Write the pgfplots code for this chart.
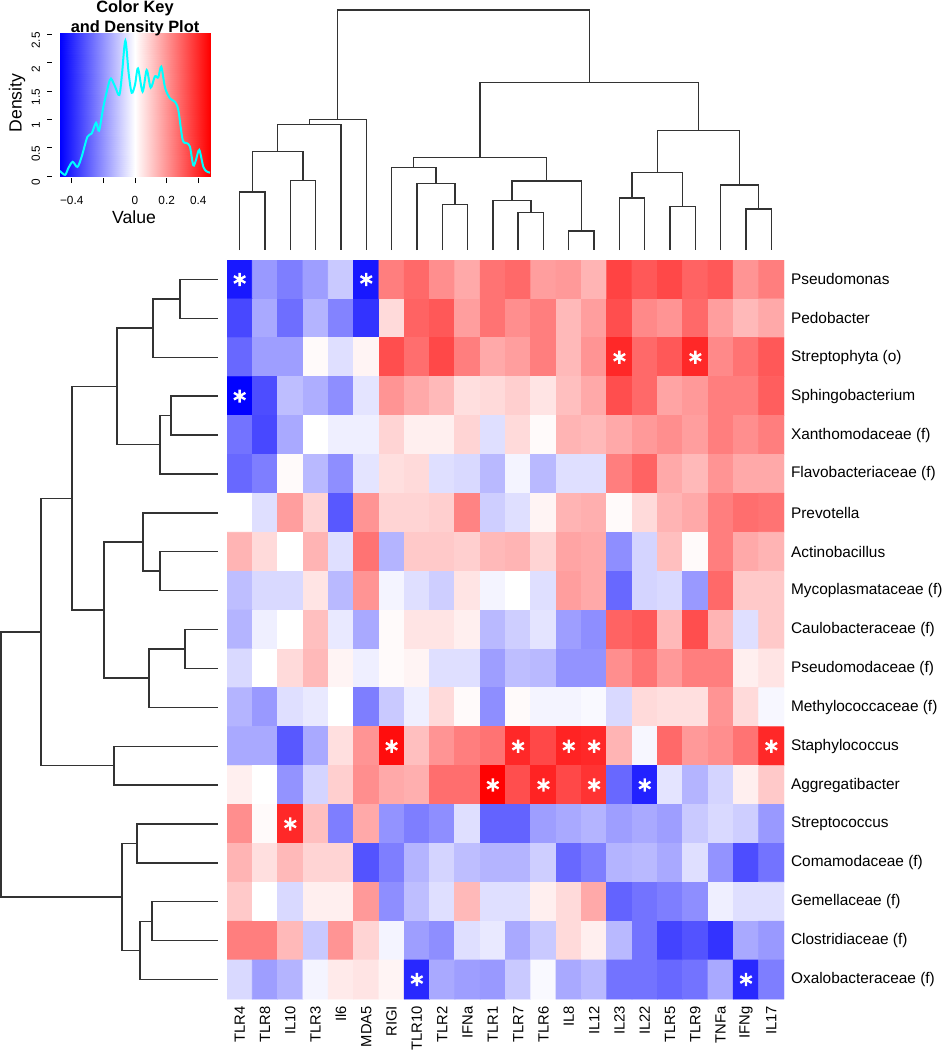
\documentclass[border=0pt]{standalone}
\usepackage{fontspec}
\setmainfont{Liberation Sans}
\usepackage{pgfplots}
\pgfplotsset{compat=1.18}
\usetikzlibrary{plotmarks}
\pgfplotsset{colormap={bwr}{rgb255=(0,0,255) rgb255=(255,255,255) rgb255=(255,0,0)}}
\definecolor{dendro}{HTML}{333333}
\definecolor{dens}{RGB}{0,255,255}

\begin{document}
\begin{tikzpicture}
\useasboundingbox (0,0) rectangle (473pt,-525pt);

% ---- heatmap ----
\begin{axis}[
  at={(113.5pt,-130pt)}, anchor=north west,
  scale only axis, width=278.5pt, height=369.5pt,
  xmin=-0.5, xmax=21.5, ymin=-0.5, ymax=18.5, y dir=reverse,
  axis line style={draw=none}, major tick length=0pt,
  colormap name=bwr, point meta min=-0.474, point meta max=0.474,
  xtick={0,...,21},
  xticklabels={TLR4,TLR8,IL10,TLR3,Il6,MDA5,RIGI,TLR10,TLR2,IFNa,TLR1,TLR7,TLR6,IL8,IL12,IL23,IL22,TLR5,TLR9,TNFa,IFNg,IL17},
  ytick={0,...,18},
  yticklabels={Pseudomonas,Pedobacter,Streptophyta (o),Sphingobacterium,Xanthomodaceae (f),Flavobacteriaceae (f),Prevotella,Actinobacillus,Mycoplasmataceae (f),Caulobacteraceae (f),Pseudomodaceae (f),Methylococcaceae (f),Staphylococcus,Aggregatibacter,Streptococcus,Comamodaceae (f),Gemellaceae (f),Clostridiaceae (f),Oxalobacteraceae (f)},
  yticklabel pos=right,
  xticklabel style={rotate=90, anchor=east, font=\fontsize{7.4}{8}\selectfont},
  yticklabel style={anchor=west, font=\fontsize{7.7}{9}\selectfont},
]
\addplot[matrix plot*, mesh/cols=22, point meta=explicit] coordinates {
(0,0)[-0.43] (1,0)[-0.19] (2,0)[-0.24] (3,0)[-0.18] (4,0)[-0.10] (5,0)[-0.43] (6,0)[0.24] (7,0)[0.28] (8,0)[0.21] (9,0)[0.16] (10,0)[0.26] (11,0)[0.28] (12,0)[0.18] (13,0)[0.19] (14,0)[0.14] (15,0)[0.35] (16,0)[0.31] (17,0)[0.34] (18,0)[0.29] (19,0)[0.31] (20,0)[0.20] (21,0)[0.24]
(0,1)[-0.34] (1,1)[-0.16] (2,1)[-0.27] (3,1)[-0.14] (4,1)[-0.23] (5,1)[-0.38] (6,1)[0.07] (7,1)[0.29] (8,1)[0.31] (9,1)[0.18] (10,1)[0.26] (11,1)[0.21] (12,1)[0.24] (13,1)[0.13] (14,1)[0.18] (15,1)[0.33] (16,1)[0.22] (17,1)[0.20] (18,1)[0.28] (19,1)[0.18] (20,1)[0.13] (21,1)[0.16]
(0,2)[-0.28] (1,2)[-0.18] (2,2)[-0.18] (3,2)[0.01] (4,2)[-0.06] (5,2)[0.02] (6,2)[0.33] (7,2)[0.27] (8,2)[0.34] (9,2)[0.24] (10,2)[0.16] (11,2)[0.18] (12,2)[0.24] (13,2)[0.13] (14,2)[0.20] (15,2)[0.40] (16,2)[0.28] (17,2)[0.31] (18,2)[0.40] (19,2)[0.22] (20,2)[0.26] (21,2)[0.31]
(0,3)[-0.47] (1,3)[-0.33] (2,3)[-0.12] (3,3)[-0.15] (4,3)[-0.21] (5,3)[-0.05] (6,3)[0.20] (7,3)[0.16] (8,3)[0.13] (9,3)[0.06] (10,3)[0.07] (11,3)[0.09] (12,3)[0.05] (13,3)[0.12] (14,3)[0.16] (15,3)[0.33] (16,3)[0.28] (17,3)[0.17] (18,3)[0.19] (19,3)[0.24] (20,3)[0.24] (21,3)[0.30]
(0,4)[-0.26] (1,4)[-0.34] (2,4)[-0.16] (3,4)[0.00] (4,4)[-0.03] (5,4)[-0.03] (6,4)[0.08] (7,4)[0.03] (8,4)[0.03] (9,4)[0.08] (10,4)[-0.06] (11,4)[0.07] (12,4)[0.01] (13,4)[0.14] (14,4)[0.13] (15,4)[0.16] (16,4)[0.19] (17,4)[0.21] (18,4)[0.18] (19,4)[0.24] (20,4)[0.21] (21,4)[0.24]
(0,5)[-0.28] (1,5)[-0.24] (2,5)[0.01] (3,5)[-0.13] (4,5)[-0.21] (5,5)[-0.05] (6,5)[0.06] (7,5)[0.07] (8,5)[-0.06] (9,5)[-0.07] (10,5)[-0.13] (11,5)[-0.02] (12,5)[-0.13] (13,5)[-0.06] (14,5)[-0.06] (15,5)[0.24] (16,5)[0.29] (17,5)[0.16] (18,5)[0.13] (19,5)[0.20] (20,5)[0.16] (21,5)[0.16]
(0,6)[0.00] (1,6)[-0.06] (2,6)[0.18] (3,6)[0.08] (4,6)[-0.31] (5,6)[0.20] (6,6)[0.08] (7,6)[0.08] (8,6)[0.09] (9,6)[0.23] (10,6)[-0.09] (11,6)[-0.06] (12,6)[0.02] (13,6)[0.14] (14,6)[0.15] (15,6)[0.01] (16,6)[0.07] (17,6)[0.14] (18,6)[0.16] (19,6)[0.24] (20,6)[0.27] (21,6)[0.26]
(0,7)[0.14] (1,7)[0.07] (2,7)[0.00] (3,7)[0.14] (4,7)[-0.06] (5,7)[0.26] (6,7)[-0.14] (7,7)[0.10] (8,7)[0.10] (9,7)[0.09] (10,7)[0.13] (11,7)[0.14] (12,7)[0.08] (13,7)[0.17] (14,7)[0.16] (15,7)[-0.21] (16,7)[-0.08] (17,7)[0.12] (18,7)[0.01] (19,7)[0.24] (20,7)[0.16] (21,7)[0.14]
(0,8)[-0.12] (1,8)[-0.07] (2,8)[-0.07] (3,8)[0.05] (4,8)[-0.13] (5,8)[0.20] (6,8)[-0.02] (7,8)[-0.06] (8,8)[-0.09] (9,8)[0.05] (10,8)[-0.02] (11,8)[0.00] (12,8)[-0.06] (13,8)[0.18] (14,8)[0.16] (15,8)[-0.28] (16,8)[-0.08] (17,8)[-0.07] (18,8)[-0.19] (19,8)[0.28] (20,8)[0.10] (21,8)[0.10]
(0,9)[-0.14] (1,9)[-0.03] (2,9)[0.00] (3,9)[0.12] (4,9)[-0.04] (5,9)[-0.16] (6,9)[0.01] (7,9)[0.05] (8,9)[0.05] (9,9)[0.03] (10,9)[-0.13] (11,9)[-0.09] (12,9)[-0.05] (13,9)[-0.18] (14,9)[-0.21] (15,9)[0.29] (16,9)[0.31] (17,9)[0.13] (18,9)[0.33] (19,9)[0.14] (20,9)[-0.06] (21,9)[0.10]
(0,10)[-0.07] (1,10)[0.00] (2,10)[0.07] (3,10)[0.13] (4,10)[0.02] (5,10)[-0.03] (6,10)[0.01] (7,10)[0.02] (8,10)[-0.06] (9,10)[-0.06] (10,10)[-0.18] (11,10)[-0.12] (12,10)[-0.13] (13,10)[-0.20] (14,10)[-0.20] (15,10)[0.21] (16,10)[0.26] (17,10)[0.19] (18,10)[0.24] (19,10)[0.24] (20,10)[0.03] (21,10)[0.05]
(0,11)[-0.14] (1,11)[-0.19] (2,11)[-0.06] (3,11)[-0.04] (4,11)[0.00] (5,11)[-0.24] (6,11)[-0.10] (7,11)[-0.03] (8,11)[0.07] (9,11)[0.01] (10,11)[-0.21] (11,11)[0.01] (12,11)[-0.02] (13,11)[-0.02] (14,11)[-0.01] (15,11)[-0.07] (16,11)[0.07] (17,11)[0.06] (18,11)[0.06] (19,11)[0.20] (20,11)[0.07] (21,11)[-0.015]
(0,12)[-0.16] (1,12)[-0.16] (2,12)[-0.31] (3,12)[-0.16] (4,12)[0.06] (5,12)[0.20] (6,12)[0.45] (7,12)[0.12] (8,12)[0.20] (9,12)[0.24] (10,12)[0.26] (11,12)[0.40] (12,12)[0.34] (13,12)[0.41] (14,12)[0.40] (15,12)[0.14] (16,12)[-0.015] (17,12)[0.28] (18,12)[0.19] (19,12)[0.21] (20,12)[0.26] (21,12)[0.40]
(0,13)[0.03] (1,13)[0.00] (2,13)[-0.20] (3,13)[-0.08] (4,13)[0.09] (5,13)[0.21] (6,13)[0.16] (7,13)[0.15] (8,13)[0.27] (9,13)[0.27] (10,13)[0.47] (11,13)[0.33] (12,13)[0.41] (13,13)[0.34] (14,13)[0.38] (15,13)[-0.28] (16,13)[-0.41] (17,13)[-0.05] (18,13)[-0.14] (19,13)[-0.08] (20,13)[0.03] (21,13)[0.10]
(0,14)[0.21] (1,14)[0.01] (2,14)[0.40] (3,14)[0.12] (4,14)[-0.24] (5,14)[0.16] (6,14)[-0.20] (7,14)[-0.24] (8,14)[-0.21] (9,14)[-0.06] (10,14)[-0.29] (11,14)[-0.29] (12,14)[-0.18] (13,14)[-0.16] (14,14)[-0.14] (15,14)[-0.18] (16,14)[-0.16] (17,14)[-0.18] (18,14)[-0.10] (19,14)[-0.07] (20,14)[-0.09] (21,14)[-0.19]
(0,15)[0.14] (1,15)[0.06] (2,15)[0.13] (3,15)[0.08] (4,15)[0.08] (5,15)[-0.32] (6,15)[-0.24] (7,15)[-0.14] (8,15)[-0.08] (9,15)[-0.12] (10,15)[-0.14] (11,15)[-0.14] (12,15)[-0.09] (13,15)[-0.28] (14,15)[-0.24] (15,15)[-0.14] (16,15)[-0.13] (17,15)[-0.16] (18,15)[-0.06] (19,15)[-0.20] (20,15)[-0.33] (21,15)[-0.26]
(0,16)[0.10] (1,16)[0.00] (2,16)[-0.07] (3,16)[0.03] (4,16)[0.03] (5,16)[0.19] (6,16)[-0.21] (7,16)[-0.12] (8,16)[-0.06] (9,16)[0.13] (10,16)[-0.06] (11,16)[-0.06] (12,16)[0.03] (13,16)[0.07] (14,16)[0.16] (15,16)[-0.29] (16,16)[-0.26] (17,16)[-0.24] (18,16)[-0.21] (19,16)[-0.03] (20,16)[-0.06] (21,16)[-0.06]
(0,17)[0.24] (1,17)[0.24] (2,17)[0.13] (3,17)[-0.10] (4,17)[0.20] (5,17)[0.08] (6,17)[-0.02] (7,17)[-0.18] (8,17)[-0.21] (9,17)[-0.06] (10,17)[-0.04] (11,17)[-0.16] (12,17)[-0.10] (13,17)[0.07] (14,17)[0.03] (15,17)[-0.13] (16,17)[-0.26] (17,17)[-0.35] (18,17)[-0.32] (19,17)[-0.38] (20,17)[-0.16] (21,17)[-0.19]
(0,18)[-0.07] (1,18)[-0.18] (2,18)[-0.14] (3,18)[-0.02] (4,18)[0.04] (5,18)[0.05] (6,18)[0.02] (7,18)[-0.40] (8,18)[-0.16] (9,18)[-0.18] (10,18)[-0.19] (11,18)[-0.10] (12,18)[-0.01] (13,18)[-0.16] (14,18)[-0.13] (15,18)[-0.26] (16,18)[-0.26] (17,18)[-0.28] (18,18)[-0.26] (19,18)[-0.16] (20,18)[-0.40] (21,18)[-0.24]
};
% significant cells
\addplot[only marks, mark=asterisk, mark size=3.3pt, white, line width=1.2pt] coordinates {
(0,0) (5,0) (15,2) (18,2) (0,3) (6,12) (11,12) (13,12) (14,12) (21,12)
(10,13) (12,13) (14,13) (16,13) (2,14) (7,18) (20,18)};
\end{axis}

% ---- column dendrogram ----
\begin{axis}[
  at={(113.5pt,-125pt)}, anchor=south west,
  scale only axis, width=278.5pt, height=120pt,
  xmin=-0.5, xmax=21.5, ymin=0, ymax=720, hide axis, clip=false,
]
\addplot[dendro, line width=0.7pt, unbounded coords=jump] coordinates {
(0,0)(0,174)(1,174)(1,0) (nan,nan)
(2,0)(2,209)(3,209)(3,0) (nan,nan)
(0.5,174)(0.5,295)(2.5,295)(2.5,209) (nan,nan)
(1.5,295)(1.5,377)(4,377)(4,0) (nan,nan)
(2.75,377)(2.75,392)(5,392)(5,0) (nan,nan)
(8,0)(8,136)(9,136)(9,0) (nan,nan)
(7,0)(7,199)(8.5,199)(8.5,136) (nan,nan)
(6,0)(6,247)(7.75,247)(7.75,199) (nan,nan)
(11,0)(11,113)(12,113)(12,0) (nan,nan)
(10,0)(10,148)(11.5,148)(11.5,113) (nan,nan)
(13,0)(13,57)(14,57)(14,0) (nan,nan)
(10.75,148)(10.75,207)(13.5,207)(13.5,57) (nan,nan)
(6.875,247)(6.875,277)(12.125,277)(12.125,207) (nan,nan)
(15,0)(15,156)(16,156)(16,0) (nan,nan)
(17,0)(17,130)(18,130)(18,0) (nan,nan)
(15.5,156)(15.5,233)(17.5,233)(17.5,130) (nan,nan)
(20,0)(20,123)(21,123)(21,0) (nan,nan)
(19,0)(19,195)(20.5,195)(20.5,123) (nan,nan)
(16.5,233)(16.5,359)(19.75,359)(19.75,195) (nan,nan)
(9.5,277)(9.5,503)(18.125,503)(18.125,359) (nan,nan)
(3.875,392)(3.875,720)(13.8125,720)(13.8125,503)
};
\end{axis}

% ---- row dendrogram ----
\begin{axis}[
  at={(0.5pt,-130pt)}, anchor=north west,
  scale only axis, width=108.5pt, height=369.5pt,
  xmin=0, xmax=217, x dir=reverse, ymin=-0.5, ymax=18.5, y dir=reverse,
  hide axis, clip=false,
]
\addplot[dendro, line width=0.7pt, unbounded coords=jump] coordinates {
(0,0)(38,0)(38,1)(0,1) (nan,nan)
(38,0.5)(65,0.5)(65,2)(0,2) (nan,nan)
(0,3)(47,3)(47,4)(0,4) (nan,nan)
(47,3.5)(58,3.5)(58,5)(0,5) (nan,nan)
(65,1.25)(101,1.25)(101,4.25)(58,4.25) (nan,nan)
(0,7)(58,7)(58,8)(0,8) (nan,nan)
(0,6)(75,6)(75,7.5)(58,7.5) (nan,nan)
(0,9)(33,9)(33,10)(0,10) (nan,nan)
(33,9.5)(69,9.5)(69,11)(0,11) (nan,nan)
(75,6.75)(114,6.75)(114,10.25)(69,10.25) (nan,nan)
(101,2.75)(146,2.75)(146,8.5)(114,8.5) (nan,nan)
(0,12)(104,12)(104,13)(0,13) (nan,nan)
(146,5.625)(177,5.625)(177,12.5)(104,12.5) (nan,nan)
(0,14)(81,14)(81,15)(0,15) (nan,nan)
(0,16)(66,16)(66,17)(0,17) (nan,nan)
(66,16.5)(78,16.5)(78,18)(0,18) (nan,nan)
(81,14.5)(96,14.5)(96,17.25)(78,17.25) (nan,nan)
(177,9.0625)(217,9.0625)(217,15.875)(96,15.875)
};
\end{axis}

% ---- colour key and density ----
\begin{axis}[
  at={(30pt,-88pt)}, anchor=south west,
  scale only axis, width=75pt, height=71.35pt,
  xmin=-0.474, xmax=0.474, ymin=0, ymax=2.52,
  axis x line*=bottom, axis y line*=left,
  axis y line shift=4pt, axis x line shift=1pt,
  axis line style={draw=none},
  tick align=outside, major tick length=2.5pt,
  tick style={black, line width=0.5pt},
  colormap name=bwr, point meta min=-0.474, point meta max=0.474,
  xtick={-0.4,-0.2,0,0.2,0.4}, xticklabels={−0.4,,0,0.2,0.4},
  ytick={0,0.5,1,1.5,2,2.5}, yticklabels={0,0.5,1,1.5,2,2.5},
  xticklabel style={font=\fontsize{5.9}{7}\selectfont, yshift=-3pt},
  yticklabel style={font=\fontsize{5.9}{7}\selectfont, rotate=90, anchor=south, xshift=-3pt},
]
\addplot[surf, shader=interp, mesh/cols=3, point meta=explicit] coordinates {
(-0.474,0)[-0.474] (0,0)[0] (0.474,0)[0.474]
(-0.474,2.52)[-0.474] (0,2.52)[0] (0.474,2.52)[0.474]
};
\addplot[dens, line width=1pt, smooth, tension=0.5] coordinates {
(-0.474,0.09) (-0.442,0.02) (-0.421,0.14) (-0.394,0.25) (-0.364,0.16) (-0.337,0.34)
(-0.301,0.69) (-0.274,0.75) (-0.246,0.94) (-0.227,0.80) (-0.200,1.22) (-0.168,1.61)
(-0.152,1.72) (-0.126,1.58) (-0.099,1.43) (-0.082,1.81) (-0.061,2.39) (-0.040,1.81)
(-0.021,1.47) (0.000,1.61) (0.019,1.90) (0.048,1.49) (0.074,1.87) (0.099,1.56)
(0.126,1.76) (0.147,1.74) (0.166,1.93) (0.190,1.56) (0.221,1.37) (0.253,1.31)
(0.274,1.16) (0.301,0.64) (0.327,0.58) (0.347,0.52) (0.368,0.19) (0.385,0.28)
(0.406,0.46) (0.432,0.16) (0.453,0.08) (0.474,0.06)
};
\draw[black, line width=0.5pt] ([yshift=-1pt]axis cs:-0.4,0) -- ([yshift=-1pt]axis cs:0.4,0);
\draw[black, line width=0.5pt] ([xshift=-4pt]axis cs:-0.474,0) -- ([xshift=-4pt]axis cs:-0.474,2.5);
\end{axis}
\node[font=\fontsize{8.2}{9}\selectfont\bfseries] at (67.5pt,-4.2pt) {Color Key};
\node[font=\fontsize{8.2}{9}\selectfont\bfseries] at (67.5pt,-14.2pt) {and Density Plot};
\node[font=\fontsize{8.8}{10}\selectfont] at (67pt,-108.5pt) {Value};
\node[font=\fontsize{8.8}{10}\selectfont, rotate=90] at (8.5pt,-51.5pt) {Density};
\end{tikzpicture}
\end{document}
